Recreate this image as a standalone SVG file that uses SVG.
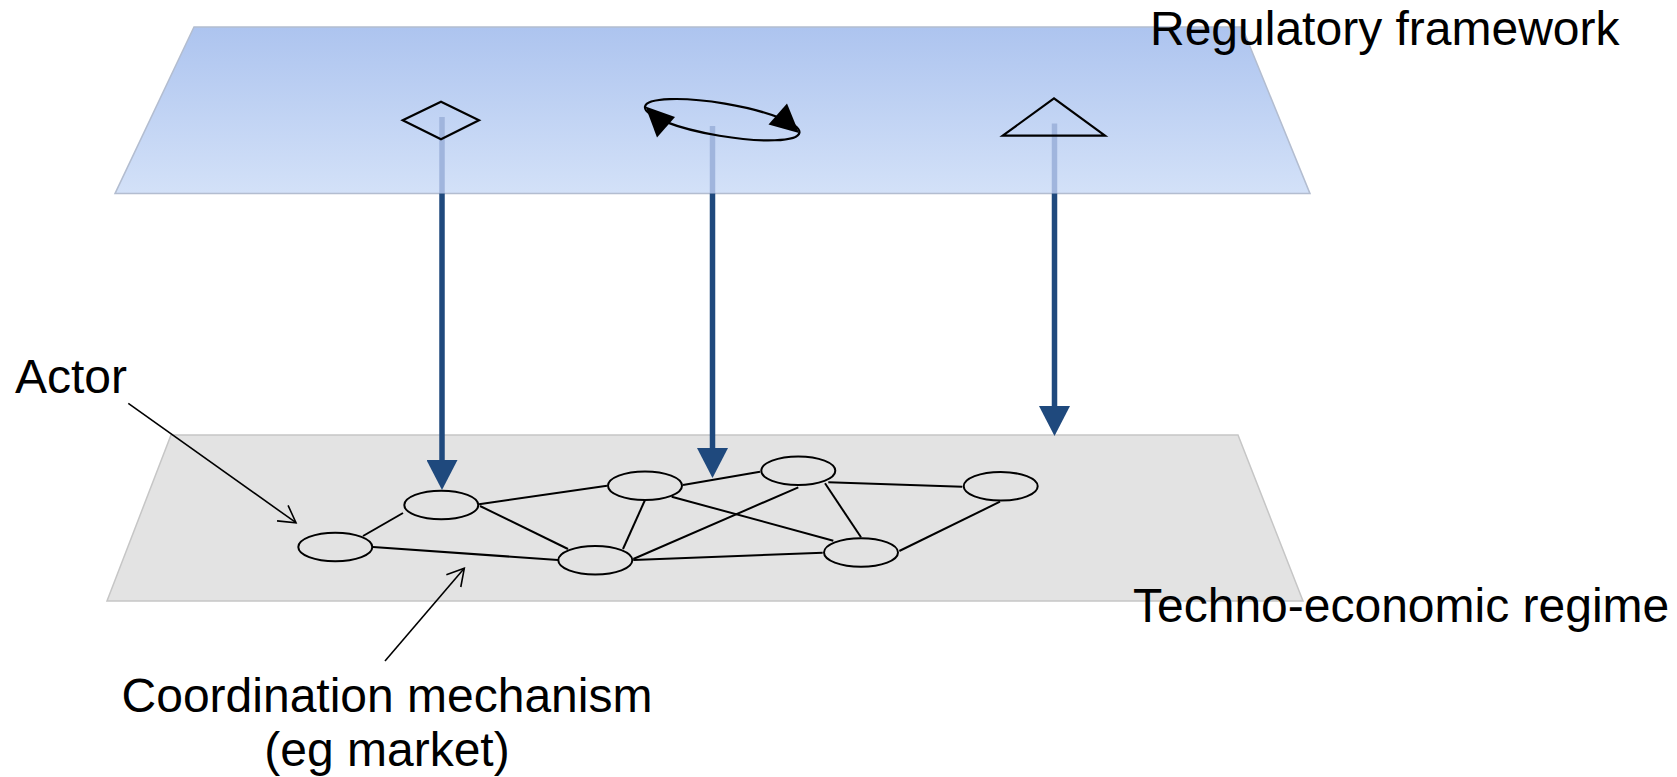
<svg xmlns="http://www.w3.org/2000/svg" width="1677" height="777" viewBox="0 0 1677 777">
<style>
.lbl{font-family:"Liberation Sans",Arial,sans-serif;font-size:48px;fill:#000}
.edge{stroke:#000;stroke-width:2;fill:none}
.actor{fill:#e3e3e3;stroke:#000;stroke-width:2}
.shaft{stroke:#1f497d;stroke-width:5.5;fill:none}
.ghost{stroke:#a0b5dd;stroke-width:5.5;fill:none}
.ann{stroke:#000;stroke-width:1.6;fill:none}
.icon{fill:none;stroke:#000;stroke-width:2.2}
</style>
<defs>
<linearGradient id="blueG" x1="0" y1="0" x2="0" y2="1">
<stop offset="0" stop-color="#adc4ef"/>
<stop offset="1" stop-color="#d3e1f8"/>
</linearGradient>
<marker id="bh" markerUnits="userSpaceOnUse" markerWidth="30" markerHeight="31" viewBox="0 0 30 31" refX="1" refY="15.5" orient="auto">
<path d="M0,0 L30,15.5 L0,31 z" fill="#1f497d"/>
</marker>
<marker id="oh" markerUnits="userSpaceOnUse" markerWidth="20" markerHeight="24" viewBox="-1 -12 20 24" refX="16.5" refY="0" orient="auto">
<path d="M0,-9.5 L16.5,0 L0,9.5" fill="none" stroke="#000" stroke-width="1.6"/>
</marker>
</defs>
<rect width="1677" height="777" fill="#fff"/>

<g id="techno-plane">
<polygon points="171,435 1238,435 1303,601 107,601" fill="#e3e3e3" stroke="#c6c6c6" stroke-width="1.5"/>
</g>

<g id="network-edges">
<line class="edge" x1="363" y1="536" x2="403" y2="513"/>
<line class="edge" x1="373" y1="547" x2="558" y2="560"/>
<line class="edge" x1="479" y1="504.3" x2="607" y2="485.7"/>
<line class="edge" x1="480" y1="506" x2="568" y2="549"/>
<line class="edge" x1="645" y1="500" x2="623" y2="549"/>
<line class="edge" x1="683" y1="485" x2="760" y2="471.7"/>
<line class="edge" x1="671.7" y1="496.7" x2="833.3" y2="540.7"/>
<line class="edge" x1="633.3" y1="559" x2="798.3" y2="487.3"/>
<line class="edge" x1="633.3" y1="560" x2="822.7" y2="552.7"/>
<line class="edge" x1="828.3" y1="482.3" x2="962.3" y2="486.7"/>
<line class="edge" x1="825" y1="483.3" x2="861" y2="537.3"/>
<line class="edge" x1="899.3" y1="551" x2="1000" y2="501.7"/>
</g>

<g id="actor1"><ellipse class="actor" cx="335.3" cy="547" rx="37" ry="14.3"/></g>
<g id="actor2"><ellipse class="actor" cx="441.3" cy="505" rx="37" ry="14.3"/></g>
<g id="actor3"><ellipse class="actor" cx="595.3" cy="560.3" rx="37" ry="14.3"/></g>
<g id="actor4"><ellipse class="actor" cx="645" cy="485.7" rx="37" ry="14.3"/></g>
<g id="actor5"><ellipse class="actor" cx="798.3" cy="470.8" rx="37" ry="14.3"/></g>
<g id="actor6"><ellipse class="actor" cx="1000.7" cy="486.3" rx="37" ry="14.3"/></g>
<g id="actor7"><ellipse class="actor" cx="861" cy="552.5" rx="37" ry="14.3"/></g>

<g id="regulatory-plane">
<polygon points="194,27 1242,27 1310,193.6 115,193.6" fill="url(#blueG)" stroke="#b3bdd0" stroke-width="1.5"/>
</g>

<g id="connectors">
<line class="ghost" x1="442" y1="117" x2="442" y2="193.6"/>
<line class="ghost" x1="712.5" y1="126" x2="712.5" y2="193.6"/>
<line class="ghost" x1="1054.5" y1="123.5" x2="1054.5" y2="193.6"/>
<line class="shaft" x1="442" y1="193.6" x2="442" y2="461" marker-end="url(#bh)"/>
<line class="shaft" x1="712.5" y1="193.6" x2="712.5" y2="449" marker-end="url(#bh)"/>
<line class="shaft" x1="1054.5" y1="193.6" x2="1054.5" y2="407" marker-end="url(#bh)"/>
<line class="ann" x1="128.3" y1="403.3" x2="296" y2="522.7" marker-end="url(#oh)"/>
<line class="ann" x1="385" y1="661" x2="464.3" y2="568.3" marker-end="url(#oh)"/>
</g>

<g id="rule-diamond">
<polygon class="icon" points="402.7,120.3 441,101.7 479,120.3 441,139.3"/>
</g>
<g id="rule-cycle">
<ellipse class="icon" cx="722.2" cy="119.7" rx="78.3" ry="16.3" transform="rotate(9.56 722.2 119.7)"/>
<polygon points="645.5,106.5 657,137.5 675,117" fill="#000"/>
<polygon points="799,133 768.5,124.5 787,103.5" fill="#000"/>
</g>
<g id="rule-triangle">
<polygon class="icon" points="1054,98.3 1002.7,135.7 1105,135.7"/>
</g>

<g id="labels">
<text class="lbl" x="1150" y="45">Regulatory framework</text>
<text class="lbl" x="1133" y="621.7">Techno-economic regime</text>
<text class="lbl" x="15" y="392.5">Actor</text>
<text class="lbl" x="387" y="711.5" text-anchor="middle">Coordination mechanism</text>
<text class="lbl" x="387" y="765.5" text-anchor="middle">(eg market)</text>
</g>
</svg>
